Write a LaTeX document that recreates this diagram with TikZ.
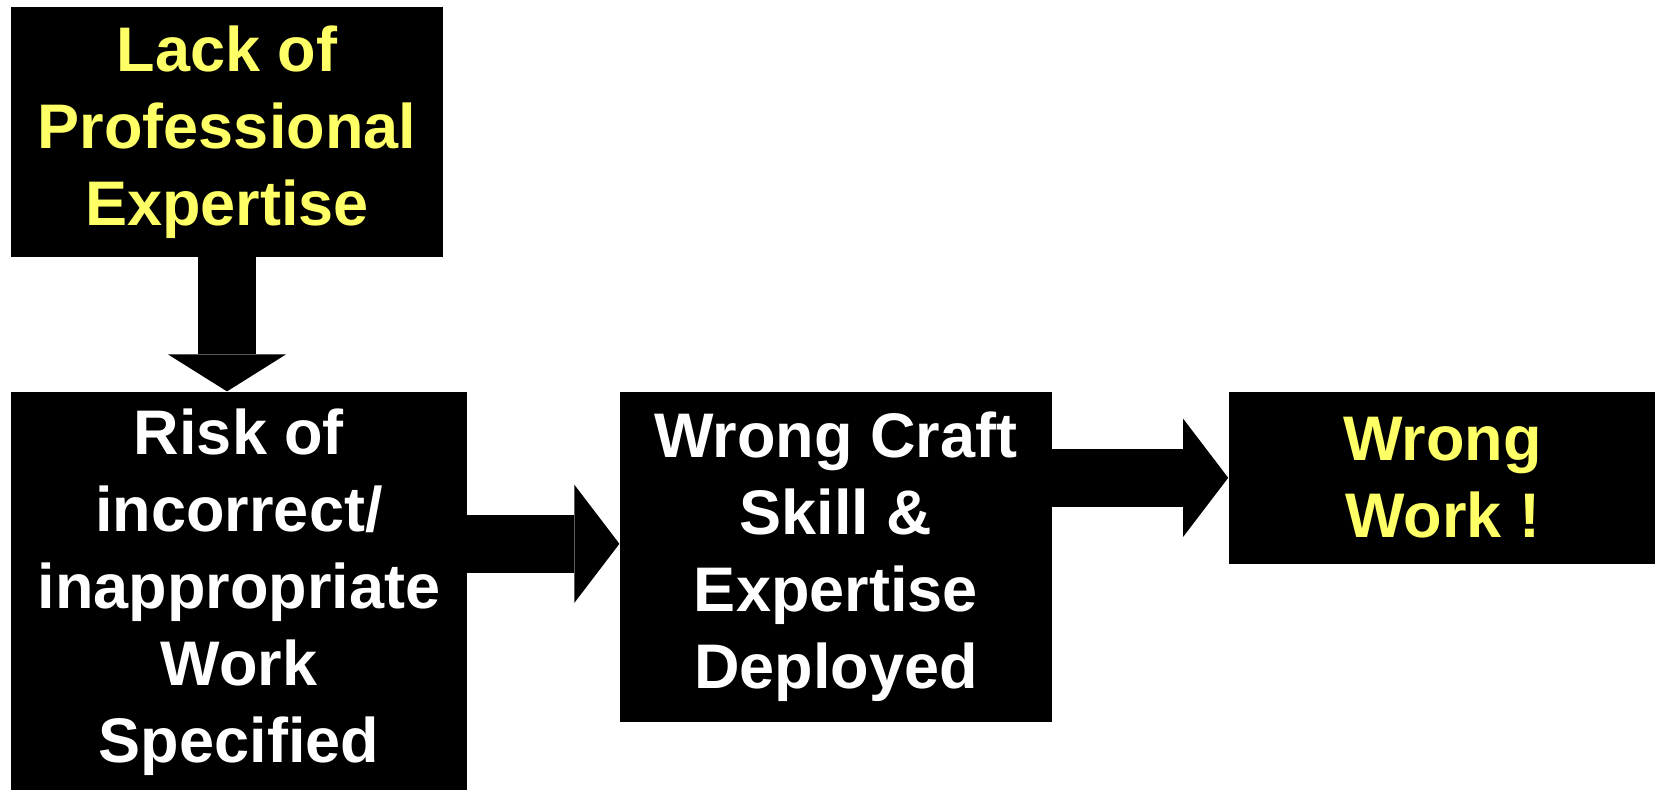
\documentclass[tikz,border=0pt]{standalone}
\usepackage{fontspec}
\setmainfont{Liberation Sans}
\usetikzlibrary{positioning,arrows.meta}

\definecolor{hiyellow}{RGB}{255,255,102}

\tikzset{
  causebox/.style={rectangle, fill=black, text=white, inner sep=0pt, align=center,
    font=\fontsize{31.5}{38.5}\selectfont\bfseries},
  bigarrow/.style={line width=29pt, -{Triangle[width=59pt,length=22.5pt,line width=0pt]}}
}

\begin{document}
\begin{tikzpicture}[x=0.5pt, y=-0.5pt]
        \useasboundingbox (0,0) rectangle (1655,790);

        % Kotak-kotak
        \node (lack) [causebox, text=hiyellow, minimum width=216pt, minimum height=125pt] at (227,132) {Lack of\\Professional\\Expertise};

        \node (risk) [causebox, minimum width=228pt, minimum height=200.5pt, below=67pt of lack.south west, anchor=north west] {Risk of\\incorrect/\\inappropriate\\Work\\Specified};

        \node (craft) [causebox, minimum width=216pt, minimum height=165pt, right=76pt of risk.north east, anchor=north west] {Wrong Craft\\Skill \&\\Expertise\\Deployed};

        \node (wrong) [causebox, text=hiyellow, minimum width=214pt, minimum height=86pt, right=88pt of craft.north east, anchor=north west] {Wrong\\Work !};

        % Panah
        \coordinate (tipA) at ([yshift=6.5pt]craft.west);
        \draw [bigarrow, -{Triangle[width=59pt,length=18.5pt,line width=0pt]}] (lack.south) -- (lack.south |- risk.north);
        \draw [bigarrow] (risk.east |- tipA) -- (tipA);
        \draw [bigarrow] (craft.east |- wrong.west) -- (wrong.west);
    \end{tikzpicture}
\end{document}
